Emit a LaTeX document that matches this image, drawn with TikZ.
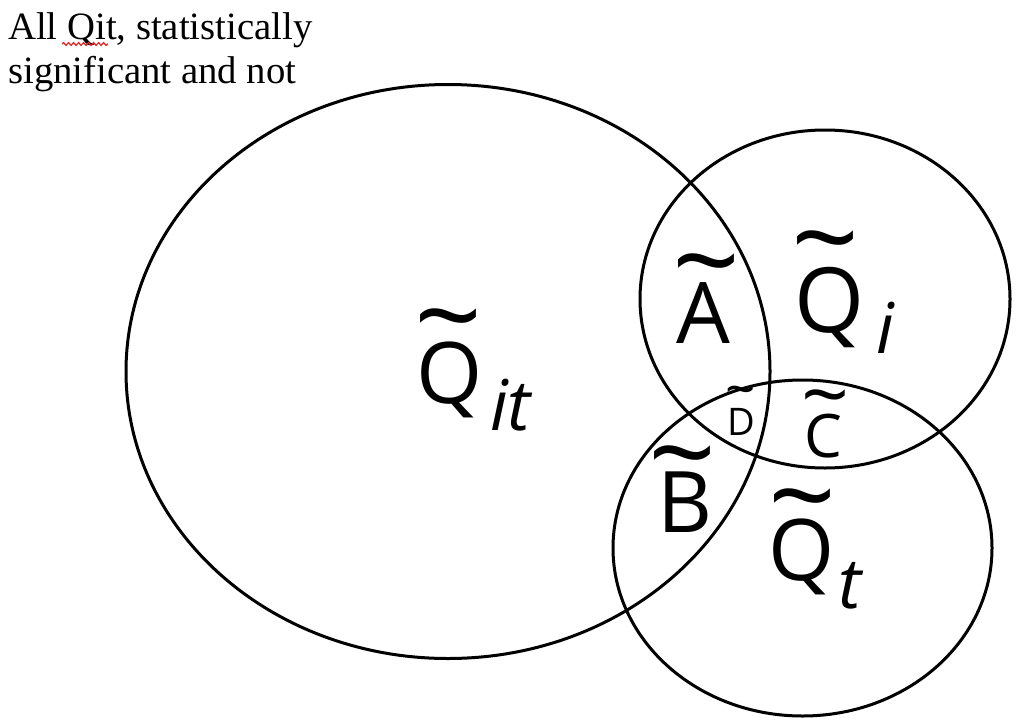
\documentclass[tikz,border=0pt]{standalone}
\usepackage{fontspec}
\setmainfont{Open Sans}
\newfontfamily\notefont{Liberation Serif}
\usetikzlibrary{decorations.pathmorphing}
\definecolor{vennink}{HTML}{000000}
\definecolor{spellred}{HTML}{E0261E}
\newcommand\bigtilde{\scalebox{1.4}[1.35]{\raisebox{\dimexpr 0.15em-\fontcharht\font`\~\relax}[0.15em][0pt]{\textasciitilde}}}

\begin{document}
\begin{tikzpicture}[x=1pt,y=-1pt,
    vennline/.style={draw=vennink,line width=3pt},
    setlabel/.style={anchor=base,inner sep=0pt,text=vennink,font=\fontsize{85}{85}\selectfont},
    setsub/.style={anchor=base west,inner sep=0pt,text=vennink,font=\fontsize{70}{70}\selectfont\itshape},
    settilde/.style={anchor=north,inner sep=0pt,text=vennink,font=\fontsize{85}{85}\selectfont}]
  \useasboundingbox (0,0) rectangle (1024,725);
  % the three sets
  \draw[vennline] (448,371.5) ellipse [x radius=322, y radius=287];
  \draw[vennline] (825,299) ellipse [x radius=185, y radius=169];
  \draw[vennline] (802.5,548) ellipse [x radius=189.5, y radius=168];
  % note in the corner
  \node[anchor=north west,inner sep=0pt,align=left,text=vennink,
    font=\notefont\fontsize{38.7}{44}\selectfont] (note) at (8,12)
    {All Qit, statistically\\significant and not};
  \draw[spellred,line width=1.2pt,decorate,
    decoration={snake,amplitude=1.4pt,segment length=5pt}] (62,44) -- (108,44);
  % set labels
  \node[setlabel] (Qit) at (450,403) {Q};
  \node[setsub] (Qitsub) at (490,430) {it};
  \node[settilde] (Qittl) at (449,309) {\bigtilde};
  \node[setlabel] (A) at (703,343) {A};
  \node[settilde] (Atl) at (707,254) {\bigtilde};
  \node[setlabel,font=\fontsize{90}{90}\selectfont] (Qi) at (830,332) {Q};
  \node[setsub] (Qisub) at (876,353) {i};
  \node[settilde] (Qitl) at (826,231) {\bigtilde};
  \node[setlabel] (B) at (685,532) {B};
  \node[settilde] (Btl) at (683,446) {\bigtilde};
  \node[setlabel] (Qt) at (802,580) {Q};
  \node[setsub] (Qtsub) at (838,608) {t};
  \node[settilde] (Qttl) at (803,489) {\bigtilde};
  \node[setlabel,font=\fontsize{38}{38}\selectfont] (D) at (741,435) {D};
  \node[settilde,font=\fontsize{38}{38}\selectfont] (Dtl) at (741,386) {\bigtilde};
  \node[setlabel,font=\fontsize{60}{60}\selectfont] (C) at (823,457) {C};
  \node[settilde,font=\fontsize{60}{60}\selectfont] (Ctl) at (826,390) {\bigtilde};
\end{tikzpicture}
\end{document}
